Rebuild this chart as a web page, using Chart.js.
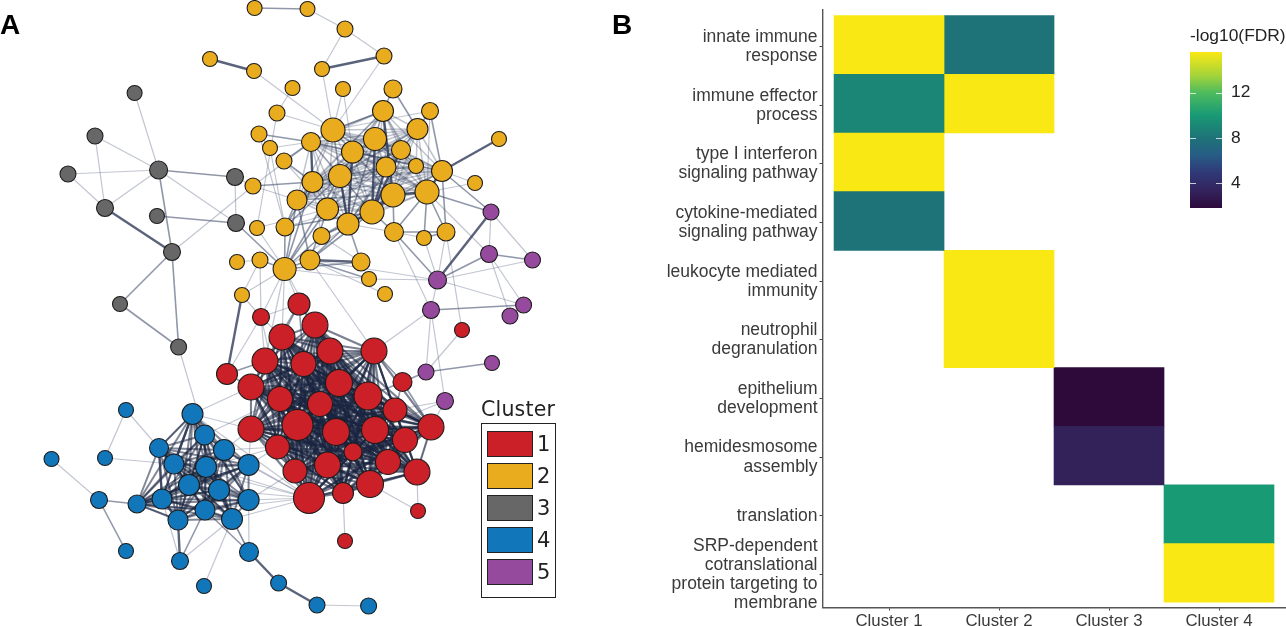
<!DOCTYPE html>
<html>
<head>
<meta charset="utf-8">
<title>Clusters</title>
<script src="https://cdn.jsdelivr.net/npm/chart.js@4"></script>
<style>
html, body { margin: 0; padding: 0; background: #fff; overflow: hidden; width: 1286px; height: 626px; }
canvas { position: absolute; }
.panel { position: absolute; font: bold 28px "Liberation Sans", sans-serif; color: #000; line-height: 28px; }
#legend { position: absolute; left: 481px; top: 423px; width: 73px; height: 173px; border: 1.5px solid #222; }
#legendTitle { position: absolute; left: 481px; top: 395px; font: 20.5px "DejaVu Sans", sans-serif; color: #222; line-height: 28px; letter-spacing: 0.2px; }
.swatch { position: absolute; left: 4.5px; width: 44px; height: 24px; border: 1.5px solid #222; }
.swatchText { position: absolute; left: 55px; font: 21px "DejaVu Sans", sans-serif; color: #222; line-height: 26px; }
</style>
</head>
<body>
<canvas id="network" style="left:0;top:0"></canvas>
<canvas id="heatmap" style="left:620px;top:0"></canvas>
<canvas id="colorbar" style="left:1190px;top:20px"></canvas>
<div class="panel" style="left:0;top:11px">A</div>
<div class="panel" style="left:612px;top:11px">B</div>
<div id="legendTitle">Cluster</div>
<div id="legend"></div>
<script>
// panel A: node layout, one set of arrays per cluster
const clusterNames = ['1', '2', '3', '4', '5'];
const clusterColors = ['#cb2027', '#e9ac1f', '#666766', '#1277ba', '#964a9e'];

const redX = [299, 261, 315, 282, 330, 374, 265, 303.5, 227, 339, 251, 402.5, 280, 368, 320, 395, 251, 297.5, 336, 375, 431, 405, 277.5, 353, 388, 327.5, 295, 417, 370, 343, 309, 418, 345, 462];
const redY = [304, 317, 325, 337, 351, 351, 361, 364, 374, 383, 387, 382, 399, 396, 404, 410, 429, 425, 432, 430, 427, 440, 447, 452, 462, 465, 471, 472, 484, 493, 498, 511, 541, 330];
const redSize = [11, 8.5, 13, 13, 13, 13, 13, 12.5, 10.5, 13.5, 13, 9.5, 12.5, 14, 12.5, 12, 13, 15.5, 13.5, 13.5, 13, 12.5, 12, 9, 12.5, 13, 12, 13, 13.5, 10.5, 15.5, 7.5, 7.5, 7.5];

const yellowX = [254.6, 307.5, 345, 384, 210, 254, 322, 292.5, 343, 393, 277, 383, 430, 499, 333, 417.5, 259, 311, 375, 270, 352.5, 401, 284, 386, 416, 442, 340, 475, 253, 312.5, 427, 393, 297, 327.5, 372, 348, 257, 285, 321.5, 394, 424, 446, 237, 260, 284.6, 310, 361, 369, 385, 242];
const yellowY = [8, 9, 29, 56, 59, 71, 69, 88, 89, 89, 113, 111, 111, 139, 130, 129, 134, 142, 139, 148, 152, 150, 161, 167, 166, 171, 176, 183, 186, 182, 192, 195, 200, 209, 212, 224, 228, 227, 236, 232, 238, 232, 262, 260, 269, 260, 262, 279, 294, 295];
const yellowSize = [7.5, 7.5, 8, 8, 7.5, 7.5, 7.5, 7.5, 7.5, 9, 8, 10.5, 8.5, 7.5, 12, 10.5, 8, 9.5, 11.5, 7.5, 11, 9.5, 8, 10, 7.5, 10.5, 11.5, 7.5, 8, 10.5, 12, 12, 10, 11, 12, 11, 7.5, 9, 8.5, 9.5, 7.5, 9, 7.5, 8, 11.5, 10, 9, 7.5, 7.5, 7.5];

const greyX = [134.6, 95, 68, 158.6, 235, 105, 157, 236, 172, 120, 178.6];
const greyY = [93, 136, 174, 170, 177, 208, 216, 223, 252, 304, 347];
const greySize = [7.5, 8, 8, 9, 8.5, 8.5, 7.5, 8.5, 8.5, 7.5, 8];

const blueX = [126, 192.5, 204.6, 159, 224, 51.5, 105, 174, 206, 248.6, 189, 219, 162, 248.6, 99, 137, 205, 178, 232, 249, 126, 180, 204, 278.6, 317, 368.6];
const blueY = [410, 414, 435, 448, 450, 459, 458, 464, 467, 465, 485, 490, 499, 500, 500, 504, 510, 520, 519, 552, 551, 561, 586, 583, 605, 606];
const blueSize = [7.5, 10.5, 10, 9.5, 10.5, 7.5, 7.5, 10, 10.5, 10.5, 10.5, 10.5, 10, 10.5, 8.5, 9, 10, 10, 10.5, 9.5, 7.5, 8.5, 7.5, 8, 8, 8];

const purpleX = [491, 489, 532.5, 437.5, 523.6, 431, 510, 426, 492, 445];
const purpleY = [212, 254, 260, 280, 305, 310, 316, 372, 363, 401];
const purpleSize = [8, 8.5, 8, 9, 8, 8.5, 8, 8, 7.5, 8.5];

// edges by strength, r/y/g/b/p + index in the arrays above
const thinEdges = ['y1-y2', 'y2-y3', 'y2-y6', 'y5-y14', 'y3-y14', 'y6-y14', 'y7-y10', 'y8-y14', 'y8-y20', 'y10-y36', 'y10-y14', 'y12-y14', 'y12-y30', 'y16-y19', 'y19-y17', 'y28-y17', 'y28-y32', 'y27-y25', 'y27-y30', 'y36-y44', 'y19-y37', 'y16-y37', 'y22-y33', 'y42-y43', 'y44-y47', 'y49-y44', 'y49-y43', 'y44-y31', 'y38-y46', 'y47-p3', 'y39-p5', 'y40-p3', 'y41-p3', 'y30-p1', 'y45-p3', 'y44-r0', 'y44-r2', 'y44-r3', 'y44-r1', 'y44-r6', 'y45-r5', 'y43-r1', 'y49-r1', 'y41-r33', 'y48-y45', 'y35-y39', 'y37-y31', 'y38-y34', 'y38-y29', 'y40-y39', 'y36-y33',
  'g0-g3', 'g1-g3', 'g1-g5', 'g2-g3', 'g2-g5', 'g3-g5', 'g3-g7', 'g4-g7', 'g8-y28', 'g4-y28', 'g10-b2',
  'p0-p1', 'p0-p2', 'p1-p4', 'p1-p6', 'p2-p3', 'p3-p5', 'p3-p4', 'p5-p7', 'p5-r5', 'p7-r33', 'p9-r20', 'p9-r15', 'p9-r19', 'p5-p9',
  'r0-r1', 'r1-r3', 'r1-r6', 'r1-r12', 'r8-r1', 'r27-r31', 'r28-r31', 'r29-r32', 'r20-r27',
  'b0-b6', 'b0-b3', 'b6-b7', 'b5-b14', 'b18-b21', 'b12-b21', 'b13-b19', 'b11-b19', 'b18-b22', 'b24-b25',
  'b1-r10', 'b1-r16', 'b4-r16', 'b2-r12', 'b9-r22', 'b8-r22', 'b9-r16', 'b1-r30', 'b4-r30', 'b7-r30', 'b8-r30', 'b9-r30', 'b11-r30', 'b13-r30', 'b16-r30', 'b18-r30', 'b4-r22', 'b13-r26'];
const midEdges = ['y0-y1', 'y9-y11', 'y9-y15', 'y11-y14', 'y12-y15', 'y12-y25', 'y16-y17', 'y22-y17', 'y22-y29', 'y28-y29', 'y37-y44', 'y37-y29', 'y37-y32', 'y37-y34', 'y37-y26', 'y38-y35', 'y38-y31', 'y39-y34', 'y39-y31', 'y39-y30', 'y39-y41', 'y40-y41', 'y40-y30', 'y41-y30', 'y41-y25', 'y44-y45', 'y43-y44', 'y44-y46', 'y45-y35', 'y45-y33', 'y45-y34', 'y45-y32', 'y44-y32', 'y44-y33', 'y44-y29', 'y44-y38', 'y44-y26', 'y45-y47', 'y46-y35', 'y25-p0', 'y30-p0', 'y39-p3',
  'g3-g4', 'g3-g8', 'g6-g7', 'g8-g9', 'g8-g10', 'g9-g10', 'g7-y44',
  'p1-p3', 'p1-p2', 'p4-p5', 'p4-p6', 'p7-p8', 'p7-r11',
  'r11-r5', 'r11-r13', 'r11-r15', 'r11-r20', 'r8-r6', 'r8-r10', 'r0-r3', 'r0-r2', 'r0-r4', 'r0-r6', 'r0-r7',
  'b14-b15', 'b14-b20', 'b15-b12', 'b15-b16', 'b15-b17', 'b15-b10', 'b16-b21', 'b18-b19', 'b16-b19', 'b1-b3'];
const heavyEdges = ['y3-y6', 'y4-y5', 'y13-y25', 'y45-y46', 'y49-r8', 'y30-y31', 'y31-y34', 'y34-y35', 'y29-y17', 'y30-y25', 'y18-y34', 'y11-y31', 'y20-y35', 'y26-y35', 'y23-y34', 'y21-y34',
  'g5-g8', 'p0-p3', 'b17-b21', 'b19-b23', 'b23-b24', 'b1-b7', 'b3-b12', 'b12-b17'];
const yellowCore = ['y11', 'y14', 'y15', 'y17', 'y18', 'y20', 'y21', 'y23', 'y24', 'y25', 'y26', 'y29', 'y30', 'y31', 'y32', 'y33', 'y34', 'y35'];
const redCore = ['r2', 'r3', 'r4', 'r5', 'r6', 'r7', 'r9', 'r10', 'r12', 'r13', 'r14', 'r15', 'r16', 'r17', 'r18', 'r19', 'r20', 'r21', 'r22', 'r23', 'r24', 'r25', 'r26', 'r27', 'r28', 'r29', 'r30'];
const blueCore = ['b1', 'b2', 'b3', 'b4', 'b7', 'b8', 'b9', 'b10', 'b11', 'b12', 'b13', 'b15', 'b16', 'b17', 'b18'];

// panel B: -log10(FDR) per term and cluster, null = not enriched
const termLabels = [
  ['innate immune', 'response'],
  ['immune effector', 'process'],
  ['type I interferon', 'signaling pathway'],
  ['cytokine-mediated', 'signaling pathway'],
  ['leukocyte mediated', 'immunity'],
  ['neutrophil', 'degranulation'],
  ['epithelium', 'development'],
  ['hemidesmosome', 'assembly'],
  ['translation'],
  ['SRP-dependent', 'cotranslational', 'protein targeting to', 'membrane']
];
const heatClusters = ['Cluster 1', 'Cluster 2', 'Cluster 3', 'Cluster 4'];
const cluster1Fdr = [15.6, 9, 15.6, 8, null, null, null, null, null, null];
const cluster2Fdr = [8, 15.6, null, null, 15.6, 15.6, null, null, null, null];
const cluster3Fdr = [null, null, null, null, null, null, 1.8, 3.2, null, null];
const cluster4Fdr = [null, null, null, null, null, null, null, null, 10, 15.6];
const colorbarTicks = [4, 8, 12];
const fdrMin = 1.8;
const fdrMax = 15.6;
const fdrStops = [[1.8, '#2d0a3a'], [3.2, '#33215a'], [5, '#2f3a78'], [6.5, '#275d85'], [8, '#1e7378'], [9, '#1c8676'], [10, '#189a75'], [12, '#4ebb5e'], [13.5, '#a3d33a'], [15.6, '#fae815']];

Chart.defaults.animation = false;
Chart.defaults.responsive = false;
Chart.defaults.devicePixelRatio = 1;
Chart.defaults.layout.autoPadding = false;
Chart.defaults.plugins.legend.display = false;
Chart.defaults.plugins.tooltip.enabled = false;

// ---- panel A
const clusterSets = {
  r: { x: redX, y: redY, size: redSize, color: clusterColors[0] },
  y: { x: yellowX, y: yellowY, size: yellowSize, color: clusterColors[1] },
  g: { x: greyX, y: greyY, size: greySize, color: clusterColors[2] },
  b: { x: blueX, y: blueY, size: blueSize, color: clusterColors[3] },
  p: { x: purpleX, y: purpleY, size: purpleSize, color: clusterColors[4] }
};

function nodePos(id) {
  const set = clusterSets[id[0]];
  const i = Number(id.slice(1));
  return { x: set.x[i], y: set.y[i] };
}

// every pair of a densely linked group
function allPairs(ids) {
  const out = [];
  ids.forEach((a, i) => ids.slice(i + 1).forEach(b => out.push(a + '-' + b)));
  return out;
}

// one dataset per edge so the transparent lines build up where they cross
function edgeDatasets(edges, color, width, order) {
  return edges.map(e => ({
    type: 'line',
    data: e.split('-').map(nodePos),
    borderColor: color,
    borderWidth: width,
    pointRadius: 0,
    fill: false,
    tension: 0,
    order: order
  }));
}

const networkDatasets = [
  ...edgeDatasets(thinEdges, 'rgba(110,120,145,0.42)', 1.2, 10),
  ...edgeDatasets(allPairs(yellowCore), 'rgba(45,58,90,0.3)', 1.5, 9),
  ...edgeDatasets(midEdges, 'rgba(70,82,112,0.6)', 1.6, 8),
  ...edgeDatasets(allPairs(redCore), 'rgba(26,36,64,0.58)', 2.1, 7),
  ...edgeDatasets(allPairs(blueCore), 'rgba(26,36,64,0.55)', 2, 6),
  ...edgeDatasets(heavyEdges, 'rgba(50,60,90,0.8)', 2.4, 5)
];

Object.values(clusterSets).forEach(set => {
  networkDatasets.push({
    type: 'bubble',
    data: set.x.map((x, i) => ({ x: x, y: set.y[i], r: set.size[i] })),
    backgroundColor: set.color,
    borderColor: '#1d1d1d',
    borderWidth: 1.1,
    order: 1
  });
});

const networkCanvas = document.getElementById('network');
networkCanvas.width = 560;
networkCanvas.height = 626;
new Chart(networkCanvas, {
  type: 'bubble',
  data: { datasets: networkDatasets },
  options: {
    layout: { padding: 0 },
    scales: {
      x: { type: 'linear', min: 0, max: 560, display: false },
      y: { type: 'linear', min: 0, max: 626, reverse: true, display: false }
    }
  }
});

// legend of panel A
const legendBox = document.getElementById('legend');
clusterNames.forEach((name, i) => {
  const top = 7 + i * 32;
  const sw = document.createElement('div');
  sw.className = 'swatch';
  sw.style.top = top + 'px';
  sw.style.background = clusterColors[i];
  legendBox.appendChild(sw);
  const tx = document.createElement('div');
  tx.className = 'swatchText';
  tx.style.top = top + 'px';
  tx.textContent = name;
  legendBox.appendChild(tx);
});

// ---- panel B
function hexToRgb(h) {
  return [1, 3, 5].map(i => parseInt(h.slice(i, i + 2), 16));
}

function fdrColor(v) {
  for (let i = 1; i < fdrStops.length; i++) {
    if (v <= fdrStops[i][0]) {
      const [v0, c0] = fdrStops[i - 1];
      const [v1, c1] = fdrStops[i];
      const t = (v - v0) / (v1 - v0);
      const a = hexToRgb(c0), b = hexToRgb(c1);
      return 'rgb(' + a.map((c, k) => Math.round(c + (b[k] - c) * t)).join(',') + ')';
    }
  }
  return fdrStops[fdrStops.length - 1][1];
}

// tick labels may overhang, keep the plot area where it was asked to be
function clearPadding(s) {
  s.paddingTop = s.paddingBottom = s.paddingLeft = s.paddingRight = 0;
}

const heatColumns = [cluster1Fdr, cluster2Fdr, cluster3Fdr, cluster4Fdr];
const heatDatasets = heatColumns.map((col, c) => ({
  label: heatClusters[c],
  data: col.map((v, r) => (v === null ? null : { x: [c, c + 1], y: r + 0.5, v: v })).filter(d => d),
  backgroundColor: ctx => fdrColor(ctx.raw.v),
  borderWidth: 0,
  barPercentage: 1,
  categoryPercentage: 1,
  grouped: false
}));

const sansFamily = '"Liberation Sans", sans-serif';

const heatCanvas = document.getElementById('heatmap');
heatCanvas.width = 666;
heatCanvas.height = 626;
new Chart(heatCanvas, {
  type: 'bar',
  data: { datasets: heatDatasets },
  options: {
    indexAxis: 'y',
    layout: { padding: { top: 10, right: 1, left: 0, bottom: 0 } },
    scales: {
      x: {
        type: 'linear',
        min: -0.105,
        max: 4.1,
        afterBuildTicks: s => { s.ticks = heatClusters.map((n, i) => ({ value: i + 0.5 })); },
        afterFit: s => { s.height = 18.5; clearPadding(s); },
        ticks: { callback: (v, i) => heatClusters[i], color: '#3a3a3a', font: { family: sansFamily, size: 16.8 }, padding: 1, maxRotation: 0, autoSkip: false },
        grid: { drawOnChartArea: false, tickLength: 3, tickColor: '#444' },
        border: { color: '#555', width: 1.4 }
      },
      y: {
        type: 'linear',
        reverse: true,
        offset: false,
        min: -0.097,
        max: 10.09,
        // labels sit a touch under the row centre in the original
        afterBuildTicks: s => { s.ticks = termLabels.map((n, i) => ({ value: i + 0.527 })); },
        afterFit: s => { s.width = 202.5; clearPadding(s); },
        ticks: { callback: (v, i) => termLabels[i], color: '#3a3a3a', font: { family: sansFamily, size: 17.5, lineHeight: 1.09 }, padding: 2, crossAlign: 'near', autoSkip: false },
        grid: { offset: false, drawOnChartArea: false, tickLength: 3, tickColor: '#444' },
        border: { color: '#555', width: 1.4 }
      }
    }
  }
});

// ---- colour bar
const barTickMarks = {
  id: 'barTickMarks',
  afterDatasetsDraw(chart) {
    const { ctx, chartArea, scales } = chart;
    ctx.save();
    ctx.strokeStyle = 'rgba(255,255,255,0.75)';
    ctx.lineWidth = 1;
    colorbarTicks.forEach(v => {
      const y = Math.round(scales.y.getPixelForValue(v)) + 0.5;
      ctx.beginPath();
      ctx.moveTo(chartArea.left, y);
      ctx.lineTo(chartArea.left + 6, y);
      ctx.moveTo(chartArea.right - 6, y);
      ctx.lineTo(chartArea.right, y);
      ctx.stroke();
    });
    ctx.restore();
  }
};

const barCanvas = document.getElementById('colorbar');
barCanvas.width = 110;
barCanvas.height = 188;
new Chart(barCanvas, {
  type: 'bar',
  data: {
    labels: ['-log10(FDR)'],
    datasets: [{
      data: [[fdrMin, fdrMax]],
      borderWidth: 0,
      barPercentage: 1,
      categoryPercentage: 1,
      backgroundColor: ctx => {
        const { chart } = ctx;
        if (!chart.chartArea) return fdrStops[0][1];
        const y = chart.scales.y;
        const g = chart.ctx.createLinearGradient(0, y.getPixelForValue(fdrMin), 0, y.getPixelForValue(fdrMax));
        fdrStops.forEach(([v, c]) => g.addColorStop((v - fdrMin) / (fdrMax - fdrMin), c));
        return g;
      }
    }]
  },
  options: {
    layout: { padding: 0 },
    plugins: {
      title: {
        display: true,
        text: '-log10(FDR)',
        align: 'start',
        color: '#222',
        font: { family: sansFamily, size: 17.4, weight: 'normal', lineHeight: 1.15 },
        padding: { top: 6, bottom: 6 }
      }
    },
    scales: {
      x: { display: false },
      y: {
        position: 'right',
        min: fdrMin,
        max: fdrMax,
        afterBuildTicks: s => { s.ticks = colorbarTicks.map(v => ({ value: v })); },
        afterFit: s => { s.width = 78; clearPadding(s); },
        ticks: { color: '#222', font: { family: sansFamily, size: 17.4 }, padding: 9 },
        grid: { display: false, drawTicks: false },
        border: { display: false }
      }
    }
  },
  plugins: [barTickMarks]
});
</script>
</body>
</html>
